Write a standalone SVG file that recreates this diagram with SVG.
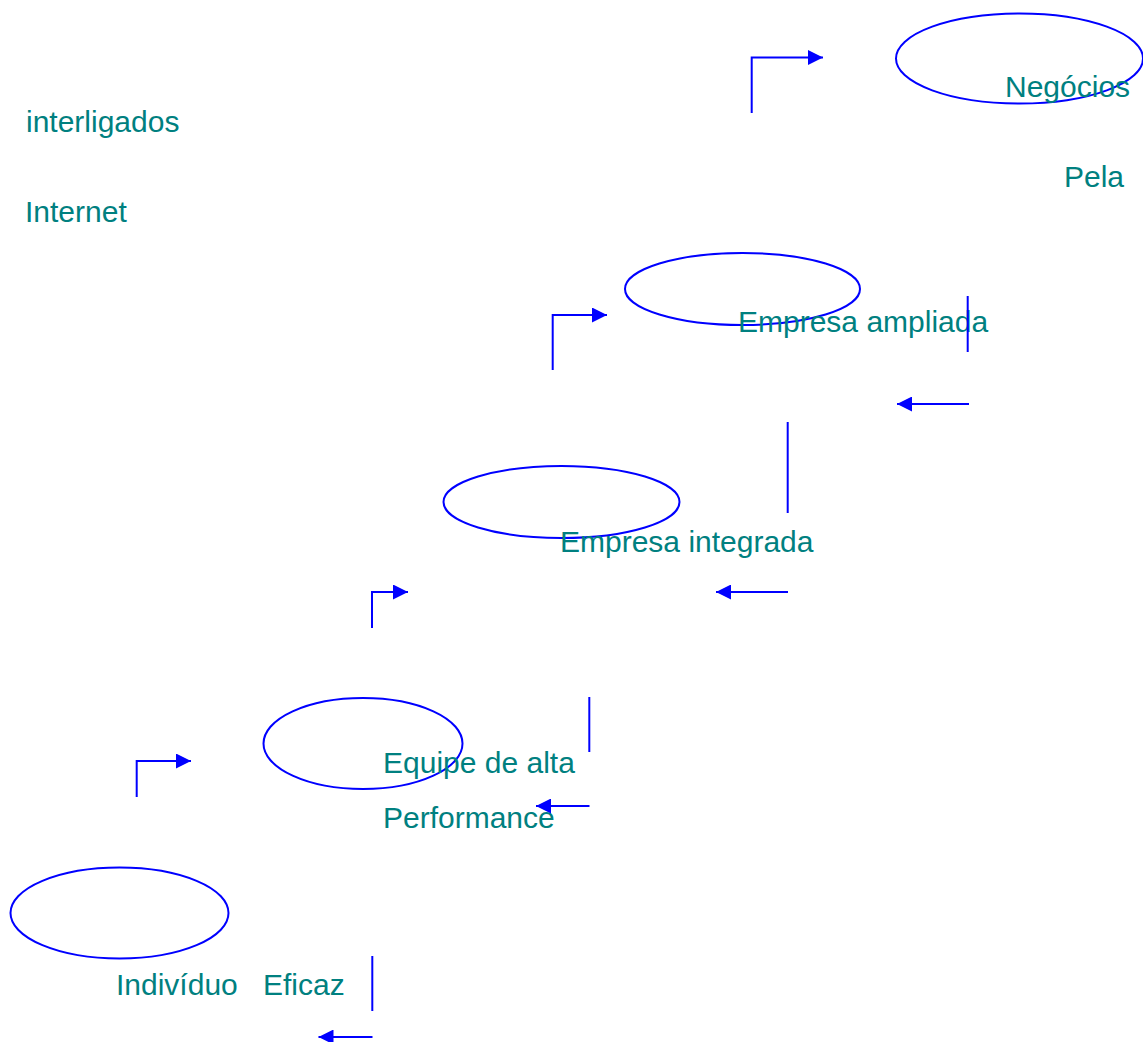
<svg xmlns="http://www.w3.org/2000/svg" width="1143" height="1042" viewBox="0 0 1143 1042">
  <style>
    .stage { fill: none; stroke: #0000ff; stroke-width: 2; }
    .lbl { font-family: "Liberation Sans", Arial, sans-serif; font-size: 30px; fill: #008080; }
    .link { fill: none; stroke: #0000ff; stroke-width: 2; }
    .arrow { marker-end: url(#head); }
  </style>
  <defs>
    <marker id="head" markerUnits="userSpaceOnUse" markerWidth="16" markerHeight="15" refX="15" refY="7.5" orient="auto">
      <path d="M0,0 L15,7.5 L0,15 z" fill="#0000ff"/>
    </marker>
  </defs>

  <rect width="1143" height="1042" fill="#ffffff"/>

  <!-- stages -->
  <g id="node-negocios">
    <ellipse class="stage" cx="1019.5" cy="58.5" rx="123.5" ry="45"/>
    <text class="lbl" x="1005" y="97">Negócios</text>
    <text class="lbl" x="26" y="132">interligados</text>
    <text class="lbl" x="1064" y="187">Pela</text>
    <text class="lbl" x="25" y="222">Internet</text>
  </g>

  <g id="node-empresa-ampliada">
    <ellipse class="stage" cx="742.5" cy="289" rx="117.5" ry="36"/>
    <text class="lbl" x="738" y="332">Empresa ampliada</text>
  </g>

  <g id="node-empresa-integrada">
    <ellipse class="stage" cx="561.5" cy="502" rx="118" ry="36"/>
    <text class="lbl" x="560" y="552">Empresa integrada</text>
  </g>

  <g id="node-equipe">
    <ellipse class="stage" cx="363" cy="743.5" rx="99.5" ry="45.5"/>
    <text class="lbl" x="383" y="773">Equipe de alta</text>
    <text class="lbl" x="383" y="828">Performance</text>
  </g>

  <g id="node-individuo">
    <ellipse class="stage" cx="119.5" cy="913" rx="109" ry="45.5"/>
    <text class="lbl" x="116" y="995">Indivíduo</text>
    <text class="lbl" x="263" y="995">Eficaz</text>
  </g>

  <!-- connectors -->
  <g id="connectors">
    <!-- elbow arrows: up, then right -->
    <path class="link arrow" d="M751.7,113 V57.5 H823"/>
    <path class="link arrow" d="M552.7,370 V315 H607"/>
    <path class="link arrow" d="M372,628 V592 H408"/>
    <path class="link arrow" d="M136.7,797 V761 H191"/>

    <!-- vertical bars -->
    <line class="link" x1="967.7" y1="296" x2="967.7" y2="352"/>
    <line class="link" x1="787.7" y1="422" x2="787.7" y2="513"/>
    <line class="link" x1="589.3" y1="697" x2="589.3" y2="752"/>
    <line class="link" x1="372.3" y1="956" x2="372.3" y2="1011"/>

    <!-- leftward arrows -->
    <line class="link arrow" x1="969" y1="404" x2="897" y2="404"/>
    <line class="link arrow" x1="788" y1="592" x2="716" y2="592"/>
    <line class="link arrow" x1="589.5" y1="806" x2="536" y2="806"/>
    <line class="link arrow" x1="372.5" y1="1037" x2="318.5" y2="1037"/>
  </g>
</svg>
